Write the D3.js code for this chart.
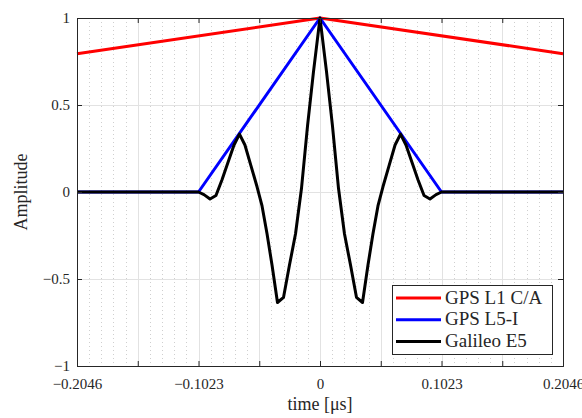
<!DOCTYPE html>
<html>
<head>
<meta charset="utf-8">
<script src="https://cdn.jsdelivr.net/npm/d3@7"></script>
<style>
  body { margin: 0; background: #fff; }
  text { font-family: "Liberation Serif", "Times New Roman", serif; fill: #262626; }
</style>
</head>
<body>
<div id="chart-area"></div>
<script>
// series values
var timeL1 = [-0.2046, 0, 0.2046];
var ampL1 = [0.795, 1, 0.795];

var timeL5 = [-0.2046, -0.1023, 0, 0.1023, 0.2046];
var ampL5 = [0, 0, 1, 0, 0];

var timeE5 = [-0.2046, -0.1023, -0.0977, -0.0926, -0.0876, -0.0825, -0.0775, -0.0724, -0.0678,
    -0.0632, -0.0581, -0.0530, -0.0488, -0.0446, -0.0404, -0.0358, -0.0307, -0.0257, -0.0206,
    -0.0156, -0.0105, -0.0055, 0,
    0.0055, 0.0105, 0.0156, 0.0206, 0.0257, 0.0307, 0.0358, 0.0404, 0.0446, 0.0488, 0.0530,
    0.0581, 0.0632, 0.0678, 0.0724, 0.0775, 0.0825, 0.0876, 0.0926, 0.0977, 0.1023, 0.2046];
var ampE5 = [0, 0, -0.015, -0.04, -0.02, 0.07, 0.17, 0.27, 0.333,
    0.27, 0.15, 0.03, -0.08, -0.24, -0.42, -0.635, -0.605, -0.42, -0.24,
    0.02, 0.38, 0.69, 1,
    0.69, 0.38, 0.02, -0.24, -0.42, -0.605, -0.635, -0.42, -0.24, -0.08, 0.03,
    0.15, 0.27, 0.333, 0.27, 0.17, 0.07, -0.02, -0.04, -0.015, 0, 0];

var seriesNames = ["GPS L1 C/A", "GPS L5-I", "Galileo E5"];
var seriesColors = ["#ff0000", "#0000ff", "#000000"];

var xTickValues = [-0.2046, -0.15345, -0.1023, -0.05115, 0, 0.05115, 0.1023, 0.15345, 0.2046];
var xTickLabels = ["\u22120.2046", "", "\u22120.1023", "", "0", "", "0.1023", "", "0.2046"];
var yTickValues = [-1, -0.5, 0, 0.5, 1];
var yTickLabels = ["\u22121", "\u22120.5", "0", "0.5", "1"];

var serif = "'Liberation Serif', 'Times New Roman', serif";

var margin = {top: 18, right: 19, bottom: 52, left: 77},
    width = 582 - margin.left - margin.right,
    height = 418 - margin.top - margin.bottom;

var svg = d3.select("#chart-area")
    .append("svg")
    .attr("width", 582)
    .attr("height", 418)
    .append("g")
    .attr("transform", "translate(" + margin.left + "," + margin.top + ")");

var xScale = d3.scaleLinear()
    .domain([-0.2046, 0.2046])
    .range([0, width]);

var yScale = d3.scaleLinear()
    .domain([-1, 1])
    .range([height, 0]);

// minor grid (dotted, vertical only)
var minorTicks = d3.range(-20, 21).map(function(i) { return i * 0.01023; })
    .filter(function(v, i) { return i % 5 !== 0; });

svg.append("g")
    .selectAll("line")
    .data(minorTicks)
    .enter()
    .append("line")
    .attr("x1", d => Math.round(xScale(d)) + 0.5)
    .attr("x2", d => Math.round(xScale(d)) + 0.5)
    .attr("y1", 0)
    .attr("y2", height)
    .attr("stroke", "#cfcfcf")
    .attr("stroke-width", 1)
    .attr("stroke-dasharray", "1,3");

// major grid
svg.append("g")
    .selectAll("line")
    .data(xTickValues)
    .enter()
    .append("line")
    .attr("x1", d => Math.round(xScale(d)) + 0.5)
    .attr("x2", d => Math.round(xScale(d)) + 0.5)
    .attr("y1", 0)
    .attr("y2", height)
    .attr("stroke", "#e2e2e2");

svg.append("g")
    .selectAll("line")
    .data(yTickValues)
    .enter()
    .append("line")
    .attr("x1", 0)
    .attr("x2", width)
    .attr("y1", d => Math.round(yScale(d)) + 0.5)
    .attr("y2", d => Math.round(yScale(d)) + 0.5)
    .attr("stroke", "#e2e2e2");

// curves
var allSeries = [
    {name: seriesNames[0], color: seriesColors[0], x: timeL1, y: ampL1},
    {name: seriesNames[1], color: seriesColors[1], x: timeL5, y: ampL5},
    {name: seriesNames[2], color: seriesColors[2], x: timeE5, y: ampE5}
];

var line = d3.line()
    .x(d => xScale(d[0]))
    .y(d => yScale(d[1]));

svg.selectAll(".curve")
    .data(allSeries)
    .enter()
    .append("path")
    .attr("class", "curve")
    .attr("d", s => line(s.x.map(function(v, i) { return [v, s.y[i]]; })))
    .attr("fill", "none")
    .attr("stroke", s => s.color)
    .attr("stroke-width", 3)
    .attr("stroke-linejoin", "round");

// axes (ticks inward, box)
var xAxis = d3.axisBottom(xScale)
    .tickValues(xTickValues)
    .tickSize(-5)
    .tickPadding(12)
    .tickFormat(function(d, i) { return xTickLabels[i]; });

var gx = svg.append("g")
    .attr("transform", "translate(0," + height + ")")
    .call(xAxis);

var yAxis = d3.axisLeft(yScale)
    .tickValues(yTickValues)
    .tickSize(-5)
    .tickPadding(7)
    .tickFormat(function(d, i) { return yTickLabels[i]; });

var gy = svg.append("g")
    .call(yAxis);

svg.append("g")
    .call(d3.axisTop(xScale).tickValues(xTickValues).tickSize(-5).tickFormat(""));

svg.append("g")
    .attr("transform", "translate(" + width + ",0)")
    .call(d3.axisRight(yScale).tickValues(yTickValues).tickSize(-5).tickFormat(""));

svg.selectAll(".domain")
    .attr("stroke", "#262626");
svg.selectAll(".tick line")
    .attr("stroke", "#262626");

gx.attr("font-family", serif).attr("font-size", 15);
gy.attr("font-family", serif).attr("font-size", 15);
gx.selectAll("text").attr("fill", "#262626");
gy.selectAll("text").attr("fill", "#262626");

// labels
svg.append("text")
    .attr("x", xScale(0))
    .attr("y", height + 44)
    .attr("text-anchor", "middle")
    .style("font-size", "18px")
    .text("time [\u03bcs]");

svg.append("text")
    .attr("transform", "rotate(-90)")
    .attr("x", -yScale(0))
    .attr("y", -margin.left + 27)
    .attr("text-anchor", "middle")
    .style("font-size", "18px")
    .text("Amplitude");

// legend
var legendX = 392 - margin.left, legendY = 285 - margin.top;
var legend = svg.append("g")
    .attr("transform", "translate(" + legendX + "," + legendY + ")");

legend.append("rect")
    .attr("x", 0.5)
    .attr("y", 0.5)
    .attr("width", 160)
    .attr("height", 69)
    .attr("fill", "#fff")
    .attr("stroke", "#262626");

var entries = legend.selectAll(".entry")
    .data(allSeries)
    .enter()
    .append("g")
    .attr("class", "entry")
    .attr("transform", (d, i) => "translate(0," + (13 + i * 21.7) + ")");

entries.append("line")
    .attr("x1", 4)
    .attr("x2", 49)
    .attr("y1", 0)
    .attr("y2", 0)
    .attr("stroke", d => d.color)
    .attr("stroke-width", 3);

entries.append("text")
    .attr("x", 53)
    .attr("y", 5.5)
    .style("font-size", "19px")
    .text(d => d.name);
</script>
</body>
</html>
